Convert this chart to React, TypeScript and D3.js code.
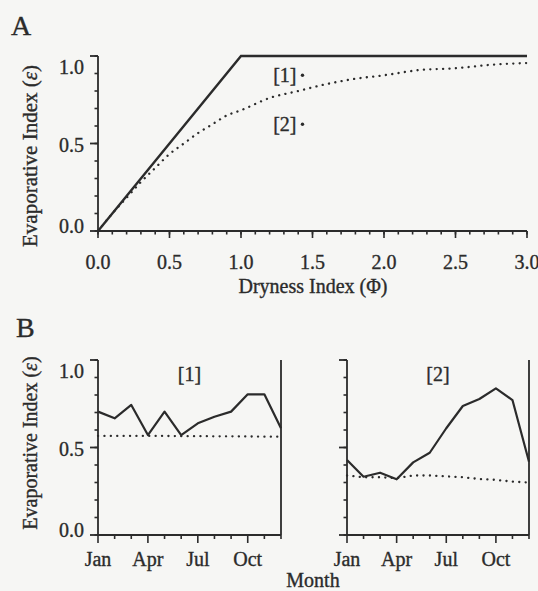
import React from "react";
import * as d3 from "d3";

// Panel A: dryness index vs evaporative index
const phiLimit = [0, 1, 3];
const epsLimit = [0, 1, 1];
const phiCurve = [0, 0.1, 0.2, 0.3, 0.4, 0.5, 0.6, 0.7, 0.8, 0.9, 1.0, 1.2, 1.4, 1.6, 1.8, 2.0, 2.25, 2.5, 2.75, 3.0];
const epsCurve = [0, 0.1, 0.19, 0.28, 0.36, 0.44, 0.5, 0.56, 0.61, 0.66, 0.69, 0.76, 0.8, 0.84, 0.87, 0.89, 0.92, 0.93, 0.95, 0.96];
const sitePhi = [1.43, 1.43];
const siteEps = [0.89, 0.61];
const siteLabels = ["[1]", "[2]"];

// Panel B: monthly evaporative index for the two sites
const months = ["Jan", "Feb", "Mar", "Apr", "May", "Jun", "Jul", "Aug", "Sep", "Oct", "Nov", "Dec"];
const monthTickLabels = ["Jan", "Apr", "Jul", "Oct"];
const site1Observed = [0.705, 0.667, 0.743, 0.571, 0.705, 0.571, 0.638, 0.676, 0.705, 0.804, 0.804, 0.61];
const site1Modeled = [0.566, 0.566, 0.566, 0.566, 0.566, 0.565, 0.565, 0.564, 0.564, 0.563, 0.562, 0.562];
const site2Observed = [0.429, 0.333, 0.356, 0.318, 0.415, 0.47, 0.61, 0.737, 0.777, 0.838, 0.771, 0.419];
const site2Modeled = [0.34, 0.33, 0.33, 0.325, 0.34, 0.34, 0.335, 0.33, 0.32, 0.315, 0.305, 0.3];

const yTickValues = [0, 0.5, 1];
const yMinorValues = d3.range(0, 1.0001, 0.1);
const xTickValues = [0, 0.5, 1, 1.5, 2, 2.5, 3];
const xMinorValues = d3.range(0, 3.0001, 0.1);

const INK = "#2b2b2b";
const FONT = "'Liberation Serif', 'DejaVu Serif', serif";
const FS = 20;
const TEXT = { fill: INK, stroke: INK, strokeWidth: 0.35 };
const DOTTED = { strokeDasharray: "0.1 6.3", strokeLinecap: "round" as const, strokeWidth: 2.3 };

function YAxis({ y, x0, labels }: { y: d3.ScaleLinear<number, number>; x0: number; labels: boolean }) {
  return (
    <g>
      <line x1={x0} x2={x0} y1={y(0)} y2={y(1)} stroke={INK} strokeWidth={1.8} />
      {yMinorValues.map((v, i) => (
        <line key={"m" + i} x1={x0 - 3.5} x2={x0} y1={y(v)} y2={y(v)} stroke={INK} strokeWidth={1.6} />
      ))}
      {yTickValues.map((v) => (
        <line key={"t" + v} x1={x0 - 8} x2={x0} y1={y(v)} y2={y(v)} stroke={INK} strokeWidth={1.8} />
      ))}
      {labels &&
        yTickValues.map((v) => (
          <text
            key={"l" + v}
            x={x0 - 14}
            y={y(v)}
            dy={v === 1 ? "0.9em" : v === 0 ? "0.1em" : "0.42em"}
            textAnchor="end"
            fontSize={FS}
            {...TEXT}
          >
            {d3.format(".1f")(v)}
          </text>
        ))}
    </g>
  );
}

function MonthPanel({
  x0,
  x1,
  observed,
  modeled,
  title,
  labels,
}: {
  x0: number;
  x1: number;
  observed: number[];
  modeled: number[];
  title: string;
  labels: boolean;
}) {
  const x = d3.scalePoint<string>().domain(months).range([x0, x1]);
  const y = d3.scaleLinear().domain([0, 1]).range([535, 360]);
  const line = d3
    .line<number>()
    .x((_, i) => x(months[i]) as number)
    .y((d) => y(d));
  return (
    <g>
      <path d={line(modeled) as string} fill="none" stroke={INK} {...DOTTED} />
      <path d={line(observed) as string} fill="none" stroke={INK} strokeWidth={2.2} strokeLinejoin="round" />
      <YAxis y={y} x0={x0} labels={labels} />
      <line x1={x0} x2={x1} y1={y(0)} y2={y(0)} stroke={INK} strokeWidth={1.8} />
      <line x1={x1} x2={x1} y1={y(0)} y2={y(1)} stroke={INK} strokeWidth={1.8} />
      {months.map((m) => {
        const major = monthTickLabels.includes(m);
        return (
          <line key={m} x1={x(m)} x2={x(m)} y1={y(0)} y2={y(0) + (major ? 8 : 4)} stroke={INK} strokeWidth={1.6} />
        );
      })}
      {monthTickLabels.map((m) => (
        <text key={"l" + m} x={x(m)} y={566} textAnchor="middle" fontSize={FS} {...TEXT}>
          {m}
        </text>
      ))}
      <text x={(x0 + x1) / 2} y={381} textAnchor="middle" fontSize={FS} {...TEXT}>
        {title}
      </text>
    </g>
  );
}

export default function App() {
  const x = d3.scaleLinear().domain([0, 3]).range([98, 527]);
  const y = d3.scaleLinear().domain([0, 1]).range([231, 56]);
  const line = d3
    .line<number>()
    .x((_, i) => x(phiCurve[i]))
    .y((d) => y(d))
    .curve(d3.curveMonotoneX);
  const limitLine = d3
    .line<number>()
    .x((_, i) => x(phiLimit[i]))
    .y((d) => y(d));

  return (
    <svg
      width={538}
      height={591}
      style={{ position: "absolute", left: 0, top: 0 }}
      fontFamily={FONT}
    >
      <rect width={538} height={591} fill="#f6f6f4" />

      {/* Panel A */}
      <text x={11} y={35} fontSize={28} {...TEXT}>A</text>
      <path d={line(epsCurve) as string} fill="none" stroke={INK} {...DOTTED} />
      <path d={limitLine(epsLimit) as string} fill="none" stroke={INK} strokeWidth={2.4} />
      <YAxis y={y} x0={x(0)} labels={true} />
      <line x1={x(0)} x2={x(3)} y1={y(0)} y2={y(0)} stroke={INK} strokeWidth={1.8} />
      {xMinorValues.map((v, i) => (
        <line key={"xm" + i} x1={x(v)} x2={x(v)} y1={y(0)} y2={y(0) + 3.5} stroke={INK} strokeWidth={1.6} />
      ))}
      {xTickValues.map((v) => (
        <line key={"xt" + v} x1={x(v)} x2={x(v)} y1={y(0)} y2={y(0) + 7} stroke={INK} strokeWidth={1.6} />
      ))}
      {xTickValues.map((v) => (
        <text key={"xl" + v} x={x(v)} y={269} textAnchor="middle" fontSize={FS} {...TEXT}>
          {d3.format(".1f")(v)}
        </text>
      ))}
      <text x={313} y={293} textAnchor="middle" fontSize={FS} {...TEXT}>
        Dryness Index (Φ)
      </text>
      <text transform="translate(37,156) rotate(-90)" textAnchor="middle" fontSize={21} {...TEXT}>
        Evaporative Index (<tspan fontStyle="italic">ε</tspan>)
      </text>
      {siteLabels.map((s, i) => (
        <g key={s}>
          <text x={x(sitePhi[i]) - 6} y={y(siteEps[i]) + 7} textAnchor="end" fontSize={FS} {...TEXT}>
            {s}
          </text>
          <circle cx={x(sitePhi[i])} cy={y(siteEps[i])} r={1.7} fill={INK} />
        </g>
      ))}

      {/* Panel B */}
      <text x={16} y={337} fontSize={28} {...TEXT}>B</text>
      <text transform="translate(37,443) rotate(-90)" textAnchor="middle" fontSize={20} {...TEXT}>
        Evaporative Index (<tspan fontStyle="italic">ε</tspan>)
      </text>
      <MonthPanel x0={98} x1={281} observed={site1Observed} modeled={site1Modeled} title="[1]" labels={true} />
      <MonthPanel x0={347} x1={529} observed={site2Observed} modeled={site2Modeled} title="[2]" labels={false} />
      <text x={313} y={587} textAnchor="middle" fontSize={FS} {...TEXT}>
        Month
      </text>
    </svg>
  );
}
